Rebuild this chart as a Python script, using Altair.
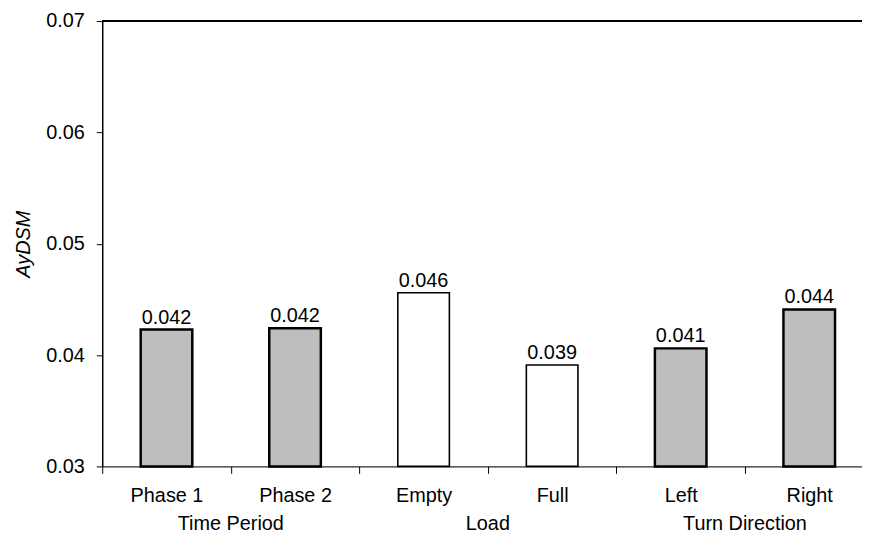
import altair as alt
import pandas as pd

categories = ["Phase 1", "Phase 2", "Empty", "Full", "Left", "Right"]
values = [0.0423, 0.0424, 0.0456, 0.0391, 0.0406, 0.0441]
shading = ["gray", "gray", "white", "white", "gray", "gray"]

groups = ["Time Period", "Load", "Turn Direction"]
group_first = ["Phase 1", "Empty", "Left"]

y_ticks = [0.03, 0.04, 0.05, 0.06, 0.07]

FONT = "Liberation Sans"
W, H = 766, 449
STEP = 129.6

df = pd.DataFrame({"cat": categories, "val": values, "shade": shading})
gdf = pd.DataFrame({"cat": group_first, "group": groups})

xscale = alt.Scale(domain=categories, range=[0, STEP * 6], paddingInner=0, paddingOuter=0)
yscale = alt.Scale(domain=[0.03, 0.07], zero=False, nice=False)

x_enc = alt.X("cat:N", sort=categories, scale=xscale,
              axis=alt.Axis(title=None, labelAngle=0, tickBand="extent", tickSize=7,
                            labelPadding=28, labelBaseline="alphabetic",
                            labelFontSize=20, labelFont=FONT, labelColor="black",
                            domainColor="black", tickColor="black", domainWidth=1,
                            tickWidth=1, grid=False))

bars = alt.Chart(df).mark_bar(size=52, stroke="black").encode(
    x=x_enc,
    y=alt.Y("val:Q", scale=yscale,
            axis=alt.Axis(values=y_ticks, format=".2f", title="AyDSM",
                          titleFontStyle="italic", titleFontWeight="normal",
                          titleFontSize=20, titleFont=FONT, titleColor="black",
                          titlePadding=12,
                          labelFontSize=20, labelFont=FONT, labelColor="black",
                          labelPadding=12, tickSize=6, tickColor="black",
                          domainColor="black", domainWidth=1.5, grid=False)),
    y2=alt.datum(0.03),
    fill=alt.Fill("shade:N", scale=alt.Scale(domain=["gray", "white"], range=["#bebebe", "#ffffff"]), legend=None),
    strokeWidth=alt.StrokeWidth("shade:N", scale=alt.Scale(domain=["gray", "white"], range=[2.5, 1.6]), legend=None),
)

labels = alt.Chart(df).mark_text(baseline="alphabetic", dy=-6, fontSize=20, font=FONT, color="black").encode(
    x=alt.X("cat:N", sort=categories, scale=xscale),
    y=alt.Y("val:Q", scale=yscale),
    text=alt.Text("val:Q", format=".3f"),
)

group_text = alt.Chart(gdf).mark_text(baseline="alphabetic", dx=STEP / 2, dy=64, fontSize=20, font=FONT, color="black").encode(
    x=alt.X("cat:N", sort=categories, scale=xscale),
    y=alt.datum(0.03),
    text="group:N",
)

top_line = alt.Chart(df).mark_rule(color="black", strokeWidth=1.2).encode(y=alt.datum(0.07))

chart = alt.layer(bars, labels, group_text, top_line).properties(
    width=W, height=H,
    autosize=alt.AutoSizeParams(type="none"),
    padding={"left": 95, "top": 11, "right": 0, "bottom": 66},
).configure_view(stroke=None).configure(background="white")

chart.save("out.html", embed_options={"renderer": "svg", "actions": False})
